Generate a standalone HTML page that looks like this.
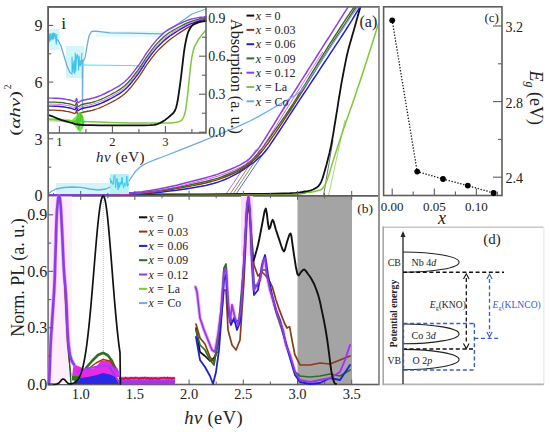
<!DOCTYPE html><html><head><meta charset="utf-8"><style>html,body{margin:0;padding:0;background:#fff;overflow:hidden}svg{display:block}text{font-family:"Liberation Serif",serif}</style></head><body>
<svg width="550" height="432" viewBox="0 0 550 432">
<rect width="550" height="432" fill="#fff"/>
<defs><clipPath id="ca"><rect x="48.2" y="6.9" width="330.7" height="189"/></clipPath></defs>
<rect x="297.5" y="195.9" width="54.5" height="188.6" fill="#a4a4a4"/>
<g clip-path="url(#ca)">
<line x1="225.0" y1="195.6" x2="256.0" y2="149.5" stroke="#8a3ee8" stroke-width="0.7" />
<line x1="229.0" y1="195.6" x2="260.0" y2="149.5" stroke="#8c3b17" stroke-width="0.7" />
<line x1="232.0" y1="195.6" x2="263.0" y2="149.5" stroke="#2f7020" stroke-width="0.7" />
<line x1="235.0" y1="195.6" x2="266.0" y2="149.5" stroke="#2020d0" stroke-width="0.7" />
<line x1="323.5" y1="195.6" x2="333.0" y2="140.0" stroke="#333" stroke-width="0.7" />
<line x1="328.5" y1="195.6" x2="345.0" y2="120.0" stroke="#7cc83c" stroke-width="0.7" />
<polyline points="48.0,195.2 76.8,195.1 118.4,195.1 162.8,194.9 200.0,194.8 228.6,194.6 253.6,194.5 274.2,194.3 290.0,194.0 299.1,193.7 302.5,193.3 303.3,193.0 305.0,192.6 308.0,192.3 310.6,192.2 313.1,191.8 315.5,191.2 317.9,190.6 320.2,190.0 322.4,188.6 324.7,185.6 327.0,180.3 329.4,173.2 331.7,165.4 334.0,158.0 336.3,151.1 338.5,144.2 340.8,137.2 343.2,130.0 345.7,122.8 348.3,115.6 350.9,108.0 353.7,100.0 356.6,91.3 359.7,82.2 362.8,72.7 366.0,63.0 369.5,52.1 373.3,40.2 376.6,29.5 379.0,22.0" fill="none" stroke="#7cc83c" stroke-width="1.5" stroke-linejoin="round" stroke-linecap="round" />
<polyline points="48.0,195.0 66.4,194.9 92.8,194.8 122.2,194.6 150.0,194.5 176.5,194.4 203.9,194.3 229.3,194.1 250.0,194.0 264.8,193.8 275.3,193.7 283.2,193.5 290.0,193.2 295.7,192.8 299.5,192.4 302.3,192.0 305.0,191.5 307.5,191.1 309.5,190.7 311.2,190.3 313.0,189.5 314.9,188.6 316.7,187.5 318.4,186.1 320.0,184.0 321.4,181.3 322.6,178.2 323.7,174.4 325.0,170.0 326.5,164.8 328.0,158.8 329.6,152.4 331.0,146.0 332.2,139.6 333.4,133.1 334.4,126.5 335.5,120.0 336.5,113.6 337.6,107.1 338.5,100.9 339.5,95.0 340.4,89.6 341.2,84.7 342.1,79.9 343.0,75.0 344.0,69.9 345.0,64.7 346.0,59.6 347.0,55.0 348.0,50.9 349.0,47.1 350.0,43.6 351.0,40.0 352.0,36.5 353.0,33.1 354.0,29.7 355.0,26.0 356.2,21.7 357.5,17.0 358.7,12.7 359.7,9.3 360.4,7.3 360.9,6.1 361.2,5.5 361.5,5.0" fill="none" stroke="#111111" stroke-width="1.8" stroke-linejoin="round" stroke-linecap="round" />
<polyline points="48.0,195.2 53.7,195.2 61.6,195.2 70.9,195.2 80.9,195.2 90.8,195.1 100.0,195.0 108.4,194.8 116.8,194.7 125.1,194.5 133.4,194.2 141.7,193.8 150.0,193.2 158.6,192.4 167.6,191.3 176.6,190.2 185.2,188.9 193.1,187.7 200.0,186.5 205.7,185.4 210.4,184.3 214.4,183.3 218.0,182.1 221.4,180.9 225.0,179.5 228.7,177.9 232.1,176.2 235.5,174.4 238.7,172.5 241.9,170.5 245.0,168.5 248.1,166.4 251.1,164.2 254.1,162.0 256.9,159.7 259.5,157.3 262.0,155.0 264.1,152.8 265.8,150.8 267.3,148.8 268.9,146.6 270.7,143.9 273.0,140.5 275.8,136.3 279.0,131.5 282.4,126.3 286.0,120.8 289.5,115.3 293.0,110.0 296.4,104.9 299.8,99.7 303.2,94.5 306.7,89.3 310.1,84.1 313.5,79.0 317.0,73.8 320.5,68.4 324.0,63.0 327.5,57.8 330.7,52.9 333.7,48.4 336.3,44.4 338.7,40.9 340.8,37.6 342.8,34.5 344.9,31.3 347.0,28.0 349.3,24.3 351.8,20.4 354.2,16.4 356.5,12.7 358.5,9.5 360.0,7.0 361.0,5.4 361.6,4.6 361.8,4.2 361.9,4.1 361.9,4.1 362.0,4.0" fill="none" stroke="#2020d0" stroke-width="1.5" stroke-linejoin="round" stroke-linecap="round" />
<polyline points="48.0,195.1 53.7,195.1 61.6,195.1 70.9,195.1 80.9,195.0 90.8,194.9 100.0,194.7 108.4,194.5 116.8,194.3 125.1,194.0 133.4,193.6 141.7,193.1 150.0,192.3 158.6,191.3 167.6,190.0 176.6,188.6 185.2,187.0 193.1,185.6 200.0,184.2 205.7,183.0 210.4,181.8 214.4,180.7 218.0,179.6 221.4,178.4 225.0,177.0 228.7,175.5 232.3,174.0 235.7,172.3 239.0,170.6 242.1,168.8 245.0,167.0 247.7,165.1 250.2,163.1 252.6,161.0 254.8,158.9 256.9,156.7 259.0,154.5 260.9,152.4 262.5,150.6 264.1,148.6 265.7,146.4 267.7,143.8 270.0,140.5 272.9,136.4 276.2,131.6 279.7,126.3 283.4,120.8 287.0,115.3 290.5,110.0 293.8,104.9 297.1,99.7 300.3,94.5 303.6,89.3 306.8,84.1 310.0,79.0 313.3,73.8 316.6,68.4 319.8,63.1 323.1,57.9 326.1,53.0 329.0,48.4 331.6,44.3 334.1,40.5 336.4,37.0 338.6,33.7 340.8,30.4 343.0,27.0 345.4,23.4 347.8,19.6 350.2,15.8 352.5,12.4 354.5,9.3 356.0,7.0 357.0,5.5 357.6,4.6 357.8,4.2 357.9,4.1 357.9,4.1 358.0,4.0" fill="none" stroke="#8c3b17" stroke-width="1.4" stroke-linejoin="round" stroke-linecap="round" />
<polyline points="48.0,195.0 53.7,195.0 61.6,195.0 70.9,194.9 80.9,194.8 90.8,194.7 100.0,194.5 108.4,194.3 116.8,194.0 125.1,193.7 133.4,193.2 141.7,192.6 150.0,191.8 158.6,190.6 167.6,189.2 176.6,187.6 185.2,185.9 193.1,184.3 200.0,182.8 205.7,181.5 210.4,180.3 214.4,179.2 218.0,178.1 221.4,176.9 225.0,175.5 228.7,174.0 232.3,172.4 235.8,170.8 239.0,169.1 242.1,167.3 245.0,165.5 247.6,163.6 250.0,161.7 252.1,159.7 254.1,157.7 256.1,155.6 258.0,153.5 259.7,151.5 261.1,149.7 262.5,147.9 264.0,145.8 265.7,143.2 268.0,140.0 270.9,136.0 274.3,131.2 277.9,126.1 281.7,120.6 285.5,115.2 289.0,110.0 292.3,105.0 295.5,99.9 298.6,94.8 301.7,89.7 304.9,84.6 308.0,79.5 311.2,74.2 314.5,68.8 317.8,63.4 321.0,58.1 324.1,53.1 327.0,48.4 329.6,44.2 332.1,40.3 334.4,36.7 336.6,33.3 338.8,29.9 341.0,26.5 343.4,22.9 345.8,19.2 348.2,15.6 350.5,12.2 352.5,9.3 354.0,7.0 355.0,5.5 355.6,4.7 355.8,4.3 355.9,4.2 355.9,4.1 356.0,4.0" fill="none" stroke="#2f7020" stroke-width="1.4" stroke-linejoin="round" stroke-linecap="round" />
<polyline points="50.5,196.0 56.2,196.0 64.1,196.0 73.4,195.9 83.4,195.8 93.3,195.7 102.5,195.4 110.9,195.1 119.3,194.7 127.6,194.3 135.9,193.7 144.2,192.9 152.5,191.8 161.1,190.3 170.1,188.4 179.1,186.4 187.7,184.2 195.6,182.2 202.5,180.4 208.2,178.9 212.9,177.6 216.9,176.4 220.5,175.3 223.9,174.0 227.5,172.7 231.2,171.2 234.9,169.7 238.4,168.1 241.7,166.5 244.7,164.9 247.5,163.2 249.9,161.6 251.9,159.9 253.6,158.3 255.2,156.5 256.8,154.7 258.5,152.7 260.1,150.7 261.7,148.6 263.1,146.5 264.7,144.1 266.5,141.4 268.5,138.2 270.9,134.4 273.5,130.1 276.4,125.5 279.3,120.7 282.3,115.9 285.2,111.2 288.0,106.7 290.8,102.3 293.6,97.8 296.5,93.3 299.5,88.7 302.5,83.9 305.9,78.5 309.7,72.5 313.6,66.4 317.2,60.7 320.3,55.9 322.5,52.4" fill="none" stroke="#e030e0" stroke-width="0.8" stroke-linejoin="round" stroke-linecap="round" />
<polyline points="48.0,194.8 53.7,194.8 61.6,194.8 70.9,194.7 80.9,194.6 90.8,194.5 100.0,194.2 108.4,193.9 116.8,193.5 125.1,193.1 133.4,192.5 141.7,191.7 150.0,190.6 158.6,189.1 167.6,187.2 176.6,185.2 185.2,183.0 193.1,181.0 200.0,179.2 205.7,177.7 210.4,176.4 214.4,175.2 218.0,174.1 221.4,172.8 225.0,171.5 228.7,170.0 232.4,168.5 235.9,166.9 239.2,165.3 242.2,163.7 245.0,162.0 247.4,160.4 249.4,158.7 251.1,157.1 252.7,155.3 254.3,153.5 256.0,151.5 257.6,149.5 259.2,147.4 260.6,145.3 262.2,142.9 264.0,140.2 266.0,137.0 268.4,133.2 271.0,128.9 273.9,124.3 276.8,119.5 279.8,114.7 282.7,110.0 285.5,105.5 288.3,101.1 291.1,96.6 294.0,92.1 297.0,87.5 300.0,82.7 303.2,77.7 306.5,72.5 309.8,67.2 313.2,61.9 316.6,56.5 320.0,51.2 323.5,45.7 327.1,40.0 330.8,34.3 334.2,28.8 337.4,23.9 340.0,19.7 342.1,16.4 343.8,13.7 345.1,11.6 346.2,9.9 347.2,8.4 348.0,7.1 348.7,6.0 349.2,5.2 349.5,4.8 349.7,4.5 349.9,4.2 350.0,4.0" fill="none" stroke="#8a3ee8" stroke-width="1.5" stroke-linejoin="round" stroke-linecap="round" />
<polyline points="135.0,195.3 200.0,195.2 290.0,194.6 305.0,193.4" fill="none" stroke="#7a9a3a" stroke-width="1.2" stroke-linejoin="round" stroke-linecap="round" />
<rect x="56" y="183" width="72" height="11" fill="#d2f6f8"/>
<rect x="110" y="174" width="19" height="20" fill="#b8f0f6"/>
<polyline points="48.0,194.0 52.0,191.0 56.0,189.0 64.0,187.5 72.0,187.0 81.0,187.3 90.0,189.0 98.0,190.0 106.0,189.0 110.0,187.0" fill="none" stroke="#6cace6" stroke-width="1.3" stroke-linejoin="round" stroke-linecap="round" />
<polyline points="110.0,178.6 110.8,183.2 111.6,180.5 112.4,184.1 113.2,184.4 114.0,176.0 114.8,175.2 115.6,187.6 116.4,178.9 117.2,178.5 118.0,189.9 118.8,182.1 119.6,187.5 120.4,182.1 121.2,184.6 122.0,177.3 122.8,184.5 123.6,188.0 124.4,182.8 125.2,186.1 126.0,185.1 126.8,176.0 127.6,186.4 128.4,183.9" fill="none" stroke="#38c8ec" stroke-width="1.0" stroke-linejoin="round" stroke-linecap="round" />
<polyline points="129.0,181.0 129.7,179.9 130.8,178.3 131.9,176.6 133.0,175.0 133.9,173.7 134.7,172.5 135.6,171.3 137.0,170.0 138.5,168.6 140.2,167.0 142.6,165.4 146.0,163.5 150.5,161.5 155.8,159.4 162.2,157.0 170.0,154.0 179.8,150.1 191.2,145.6 203.1,140.9 214.0,136.5 223.7,132.5 232.9,128.7 241.6,124.9 250.0,121.0 258.3,116.6 266.4,112.0 273.8,107.7 280.0,104.0 284.8,101.3 288.5,99.2 291.4,97.5 294.0,96.0 296.1,94.7 297.5,93.7 298.7,92.8 300.0,91.5 300.8,90.9 301.2,90.7 302.5,89.0 306.0,84.0 313.1,73.5 322.8,59.0 332.5,44.2 340.0,33.0 344.2,26.6 346.6,23.0 348.2,20.6 350.0,18.0 352.3,14.7 354.6,11.5 356.6,8.8 358.0,6.9" fill="none" stroke="#6cace6" stroke-width="1.3" stroke-linejoin="round" stroke-linecap="round" />
</g>
<rect x="48.2" y="6.9" width="157.8" height="126.1" fill="#fff"/>
<rect x="48.5" y="29" width="11" height="21" fill="#bff3f6" opacity="0.7"/>
<rect x="66" y="46" width="18" height="32" fill="#bff3f6" opacity="0.7"/>
<rect x="96" y="31" width="70" height="6" fill="#d8f8fa" opacity="0.7"/>
<polyline points="57.0,40.0 58.0,40.0 61.0,46.0 64.0,56.0 67.0,66.0 69.6,72.0 72.0,74.0" fill="none" stroke="#6cace6" stroke-width="1.3" stroke-linejoin="round" stroke-linecap="round" />
<polyline points="48.5,37.0 48.5,37.0 49.1,34.6 49.7,41.6 50.3,33.5 50.9,40.0 51.5,37.6 52.1,33.3 52.7,39.6 53.3,33.0 53.9,38.6 54.5,33.5 55.1,33.8 55.7,38.4 56.3,44.1 56.9,34.2" fill="none" stroke="#3cc4ec" stroke-width="1.1" stroke-linejoin="round" stroke-linecap="round" />
<polyline points="72.0,72.0 72.0,56.9 72.5,65.8 73.1,72.8 73.6,64.7 74.2,60.7 74.7,73.5 75.3,53.0 75.8,70.9 76.4,58.4 76.9,55.2 77.5,54.6 78.0,58.8 78.6,70.0 79.1,56.0 79.7,64.8 80.2,66.1 80.8,60.2 81.3,64.1 81.9,53.4" fill="none" stroke="#3cc4ec" stroke-width="1.1" stroke-linejoin="round" stroke-linecap="round" />
<polyline points="82.3,60.0 82.5,110.0 82.8,62.0 85.0,58.0 87.0,46.0 89.0,36.0 91.5,31.5 96.0,31.2 110.0,32.8 130.0,33.2 150.0,33.6 162.0,33.8 172.0,28.0 182.0,21.0 192.0,14.0 206.0,9.0" fill="none" stroke="#6cace6" stroke-width="1.3" stroke-linejoin="round" stroke-linecap="round" />
<polyline points="82.0,65.0 110.0,65.3 134.0,65.6 146.0,67.0" fill="none" stroke="#4ee0f4" stroke-width="1.0" stroke-linejoin="round" stroke-linecap="round" />
<polyline points="48.0,110.0 49.7,110.1 52.0,110.1 54.8,110.2 57.5,110.3 60.0,110.5 62.2,110.7 64.4,111.0 66.5,111.4 68.4,111.7 70.0,112.0 71.4,112.4 72.5,112.8 73.5,113.2 74.3,113.5 75.0,113.5 75.5,113.1 75.9,112.3 76.1,111.4 76.3,110.7 76.5,110.5 76.8,110.9 77.0,111.9 77.2,113.0 77.5,114.0 78.0,114.5 78.5,114.5 79.0,114.2 79.6,113.7 80.6,113.1 82.0,112.5 84.0,112.0 86.5,111.5 89.2,111.0 92.1,110.3 95.0,109.5 97.9,108.5 100.9,107.3 103.9,106.0 107.0,104.5 110.0,103.0 113.0,101.4 116.1,99.7 119.2,97.9 122.1,95.8 125.0,93.5 127.8,90.8 130.5,87.8 133.0,84.6 135.5,81.3 137.8,78.3 139.9,75.4 141.7,72.6 143.5,69.8 145.2,67.0 147.0,64.4 148.9,61.8 150.7,59.3 152.6,56.9 154.4,54.6 156.3,52.4 158.1,50.4 160.0,48.5 161.8,46.7 163.6,45.0 165.5,43.4 167.3,41.7 169.0,40.3 170.8,38.9 172.7,37.5 175.0,36.0 177.6,34.1 180.6,32.1 183.7,30.1 186.8,28.1 190.0,26.4 193.4,24.8 197.1,23.3 200.7,22.0 203.8,20.9 206.0,20.1" fill="none" stroke="#8c3b17" stroke-width="1.3" stroke-linejoin="round" stroke-linecap="round" />
<polyline points="48.0,106.0 49.7,106.1 52.0,106.1 54.8,106.2 57.5,106.3 60.0,106.5 62.2,106.7 64.4,107.0 66.5,107.4 68.4,107.7 70.0,108.0 71.4,108.4 72.5,108.8 73.5,109.2 74.3,109.5 75.0,109.5 75.5,109.1 75.9,108.3 76.1,107.4 76.3,106.7 76.5,106.5 76.8,106.9 77.0,107.9 77.2,109.0 77.5,110.0 78.0,110.5 78.5,110.5 79.0,110.2 79.6,109.7 80.6,109.1 82.0,108.5 84.0,108.0 86.5,107.5 89.2,107.0 92.1,106.3 95.0,105.5 97.9,104.5 100.9,103.3 103.9,102.0 107.0,100.5 110.0,99.0 113.0,97.4 116.1,95.7 119.2,93.9 122.1,91.8 125.0,89.5 127.8,86.8 130.5,83.8 133.0,80.6 135.5,77.3 137.8,74.3 139.9,71.4 141.7,68.6 143.5,65.8 145.2,63.0 147.0,60.4 148.9,57.8 150.7,55.3 152.6,52.9 154.4,50.6 156.3,48.4 158.1,46.4 160.0,44.5 161.8,42.7 163.6,41.0 165.5,39.4 167.3,37.9 169.0,36.6 170.8,35.3 172.7,34.1 175.0,32.6 177.6,31.0 180.6,29.2 183.7,27.3 186.8,25.6 190.0,24.1 193.4,22.8 197.1,21.5 200.7,20.4 203.8,19.6 206.0,18.9" fill="none" stroke="#2020d0" stroke-width="1.4" stroke-linejoin="round" stroke-linecap="round" />
<polyline points="48.0,102.0 49.7,102.1 52.0,102.1 54.8,102.2 57.5,102.3 60.0,102.5 62.2,102.7 64.4,103.0 66.5,103.4 68.4,103.7 70.0,104.0 71.4,104.4 72.5,104.8 73.5,105.2 74.3,105.5 75.0,105.5 75.5,105.1 75.9,104.3 76.1,103.4 76.3,102.7 76.5,102.5 76.8,102.9 77.0,103.9 77.2,105.0 77.5,106.0 78.0,106.5 78.5,106.5 79.0,106.2 79.6,105.7 80.6,105.1 82.0,104.5 84.0,104.0 86.5,103.5 89.2,103.0 92.1,102.3 95.0,101.5 97.9,100.5 100.9,99.3 103.9,98.0 107.0,96.5 110.0,95.0 113.0,93.4 116.1,91.7 119.2,89.9 122.1,87.8 125.0,85.5 127.8,82.8 130.5,79.8 133.0,76.6 135.5,73.3 137.8,70.3 139.9,67.4 141.7,64.6 143.5,61.8 145.2,59.0 147.0,56.4 148.9,53.8 150.7,51.3 152.6,48.9 154.4,46.6 156.3,44.4 158.1,42.4 160.0,40.5 161.8,38.7 163.6,37.0 165.5,35.5 167.3,34.0 169.0,32.8 170.8,31.7 172.7,30.6 175.0,29.3 177.6,27.8 180.6,26.2 183.7,24.6 186.8,23.1 190.0,21.8 193.4,20.7 197.1,19.7 200.7,18.9 203.8,18.2 206.0,17.7" fill="none" stroke="#2f7020" stroke-width="1.3" stroke-linejoin="round" stroke-linecap="round" />
<polyline points="48.0,104.0 49.7,104.1 52.0,104.1 54.8,104.2 57.5,104.3 60.0,104.5 62.2,104.7 64.4,105.0 66.5,105.4 68.4,105.7 70.0,106.0 71.4,106.4 72.5,106.8 73.5,107.2 74.3,107.5 75.0,107.5 75.5,107.1 75.9,106.3 76.1,105.4 76.3,104.7 76.5,104.5 76.8,104.9 77.0,105.9 77.2,107.0 77.5,108.0 78.0,108.5 78.5,108.5 79.0,108.2 79.6,107.7 80.6,107.1 82.0,106.5 84.0,106.0 86.5,105.5 89.2,105.0 92.1,104.3 95.0,103.5 97.9,102.5 100.9,101.3 103.9,100.0 107.0,98.5 110.0,97.0 113.0,95.4 116.1,93.7 119.2,91.9 122.1,89.8 125.0,87.5 127.8,84.8 130.5,81.8 133.0,78.6 135.5,75.3 137.8,72.3 139.9,69.4 141.7,66.6 143.5,63.8 145.2,61.0 147.0,58.4 148.9,55.8 150.7,53.3 152.6,50.9 154.4,48.6 156.3,46.4 158.1,44.4 160.0,42.5 161.8,40.7 163.6,39.0 165.5,37.4 167.3,36.0 169.0,34.7 170.8,33.5 172.7,32.3 175.0,31.0 177.6,29.4 180.6,27.7 183.7,26.0 186.8,24.4 190.0,22.9 193.4,21.7 197.1,20.6 200.7,19.7 203.8,18.9 206.0,18.3" fill="none" stroke="#e030e0" stroke-width="0.7" stroke-linejoin="round" stroke-linecap="round" />
<polyline points="48.0,98.0 49.7,98.1 52.0,98.1 54.8,98.2 57.5,98.3 60.0,98.5 62.2,98.7 64.4,99.0 66.5,99.4 68.4,99.7 70.0,100.0 71.4,100.4 72.5,100.8 73.5,101.2 74.3,101.5 75.0,101.5 75.5,101.1 75.9,100.3 76.1,99.4 76.3,98.7 76.5,98.5 76.8,98.9 77.0,99.9 77.2,101.0 77.5,102.0 78.0,102.5 78.5,102.5 79.0,102.2 79.6,101.7 80.6,101.1 82.0,100.5 84.0,100.0 86.5,99.5 89.2,99.0 92.1,98.3 95.0,97.5 97.9,96.5 100.9,95.3 103.9,94.0 107.0,92.5 110.0,91.0 113.0,89.4 116.1,87.7 119.2,85.9 122.1,83.8 125.0,81.5 127.8,78.8 130.5,75.8 133.0,72.6 135.5,69.3 137.8,66.3 139.9,63.4 141.7,60.6 143.5,57.8 145.2,55.0 147.0,52.4 148.9,49.8 150.7,47.3 152.6,44.9 154.4,42.6 156.3,40.4 158.1,38.4 160.0,36.5 161.8,34.7 163.6,33.0 165.5,31.5 167.3,30.2 169.0,29.1 170.8,28.1 172.7,27.1 175.0,26.0 177.6,24.7 180.6,23.3 183.7,21.9 186.8,20.6 190.0,19.5 193.4,18.6 197.1,17.9 200.7,17.3 203.8,16.9 206.0,16.5" fill="none" stroke="#8a3ee8" stroke-width="1.4" stroke-linejoin="round" stroke-linecap="round" />
<polyline points="48.5,119.5 60.0,120.2 70.0,121.0" fill="none" stroke="#b6e89a" stroke-width="3.5" stroke-linejoin="round" stroke-linecap="round" />
<polyline points="48.5,119.0 50.5,119.2 53.4,119.4 56.7,119.7 60.0,120.0 63.4,120.3 67.2,120.5 70.8,120.8 74.0,121.0 75.9,121.1 76.9,121.2 78.7,121.3 82.8,121.5 90.0,121.8 99.4,122.1 109.8,122.4 120.0,122.7 130.3,122.9 141.2,123.0 151.5,123.0 160.0,123.0 166.3,123.0 171.1,122.9 174.9,122.6 178.0,122.0 180.4,121.1 181.9,119.9 183.0,118.3 184.0,116.0 184.9,113.3 185.6,110.3 186.2,106.1 187.0,100.0 188.1,90.5 189.3,78.4 190.6,66.4 191.9,57.0 193.1,51.2 194.3,47.5 195.5,44.8 197.0,42.0 199.0,38.7 201.3,35.6 203.5,32.9 205.0,31.0" fill="none" stroke="#7cc83c" stroke-width="1.5" stroke-linejoin="round" stroke-linecap="round" />
<polygon points="70,121.5 75,117 78.5,112.5 81,112 83.5,117 84.5,122 83,128 80,132.5 77,129 73,124" fill="#66e040" opacity="0.85"/>
<polyline points="73.0,121.5 73.3,121.5 73.7,121.7 74.0,121.5 74.4,121.5 74.7,121.6 75.1,120.9 75.4,121.5 75.8,122.0 76.1,122.9 76.5,119.0 76.8,120.0 77.2,117.7 77.5,124.9 77.9,124.0 78.2,114.7 78.6,129.5 78.9,129.8 79.3,124.4 79.6,123.8 80.0,114.6 80.3,111.9 80.7,122.0 81.0,113.6 81.4,116.4 81.7,117.7 82.1,115.4 82.4,121.1 82.8,120.9 83.1,124.1 83.5,121.6 83.8,122.2 84.2,121.5 84.5,121.9 84.9,121.4" fill="none" stroke="#44cc22" stroke-width="1.0" stroke-linejoin="round" stroke-linecap="round" />
<polyline points="48.5,115.0 49.5,115.4 50.9,115.9 52.5,116.4 54.0,117.0 55.3,117.5 56.4,118.1 57.8,118.7 59.5,119.3 61.7,120.1 64.3,120.9 67.1,121.7 70.0,122.5 72.5,123.2 74.7,123.9 77.8,124.5 82.8,125.0 90.6,125.2 100.3,125.3 110.6,125.3 120.0,125.3 128.5,125.4 136.7,125.4 144.1,125.4 150.0,125.2 153.9,124.9 156.2,124.5 158.0,123.9 160.0,123.0 162.6,121.6 165.2,119.9 167.8,117.9 170.0,116.0 171.8,114.4 173.4,113.0 174.7,111.1 176.0,108.0 177.1,103.5 178.1,98.1 179.0,91.8 180.0,85.0 181.0,77.1 182.1,68.1 183.1,59.3 184.0,52.0 184.8,46.6 185.6,42.4 186.3,39.0 187.0,36.0 187.7,33.5 188.4,31.5 189.2,30.0 190.0,28.5 190.9,27.1 191.8,25.9 192.8,24.9 194.0,24.0 195.4,23.3 196.9,22.7 198.5,22.2 200.0,21.8 201.6,21.5 203.4,21.3 204.9,21.1 206.0,21.0" fill="none" stroke="#111111" stroke-width="1.8" stroke-linejoin="round" stroke-linecap="round" />
<rect x="48.2" y="6.9" width="157.8" height="126.1" fill="none" stroke="#5e5e5e" stroke-width="1.5"/>
<line x1="59.4" y1="133.0" x2="59.4" y2="126.0" stroke="#5e5e5e" stroke-width="1.1" />
<line x1="85.9" y1="133.0" x2="85.9" y2="129.0" stroke="#5e5e5e" stroke-width="1.1" />
<line x1="112.4" y1="133.0" x2="112.4" y2="126.0" stroke="#5e5e5e" stroke-width="1.1" />
<line x1="138.9" y1="133.0" x2="138.9" y2="129.0" stroke="#5e5e5e" stroke-width="1.1" />
<line x1="165.4" y1="133.0" x2="165.4" y2="126.0" stroke="#5e5e5e" stroke-width="1.1" />
<line x1="191.9" y1="133.0" x2="191.9" y2="129.0" stroke="#5e5e5e" stroke-width="1.1" />
<line x1="206.0" y1="132.2" x2="199.0" y2="132.2" stroke="#5e5e5e" stroke-width="1.1" />
<line x1="206.0" y1="113.2" x2="202.0" y2="113.2" stroke="#5e5e5e" stroke-width="1.1" />
<line x1="206.0" y1="94.2" x2="199.0" y2="94.2" stroke="#5e5e5e" stroke-width="1.1" />
<line x1="206.0" y1="75.2" x2="202.0" y2="75.2" stroke="#5e5e5e" stroke-width="1.1" />
<line x1="206.0" y1="56.2" x2="199.0" y2="56.2" stroke="#5e5e5e" stroke-width="1.1" />
<line x1="206.0" y1="37.2" x2="202.0" y2="37.2" stroke="#5e5e5e" stroke-width="1.1" />
<line x1="206.0" y1="18.3" x2="199.0" y2="18.3" stroke="#5e5e5e" stroke-width="1.1" />
<text x="59.4" y="145.6" font-size="12.5" text-anchor="middle" fill="#222"  >1</text>
<text x="112.4" y="145.6" font-size="12.5" text-anchor="middle" fill="#222"  >2</text>
<text x="165.4" y="145.6" font-size="12.5" text-anchor="middle" fill="#222"  >3</text>
<text x="96" y="162.4" font-size="15" fill="#222" textLength="48.6" lengthAdjust="spacing"><tspan font-style="italic">hν</tspan> (eV)</text>
<text x="208.2" y="23.1" font-size="13.8" text-anchor="start" fill="#222"  >0.9</text>
<text x="208.2" y="61.0" font-size="13.8" text-anchor="start" fill="#222"  >0.6</text>
<text x="208.2" y="99.0" font-size="13.8" text-anchor="start" fill="#222"  >0.3</text>
<text x="208.2" y="137.0" font-size="13.8" text-anchor="start" fill="#222"  >0.0</text>
<text x="0.0" y="0.0" font-size="17" text-anchor="middle" fill="#222"  transform="translate(231.0,76.5) rotate(90)" textLength="115" lengthAdjust="spacingAndGlyphs">Absorption (a. u.)</text>
<text x="61.2" y="29.2" font-size="17.5" text-anchor="start" fill="#222"  >i</text>
<line x1="246.5" y1="15.6" x2="254.2" y2="15.6" stroke="#111111" stroke-width="2.0" />
<text x="255.8" y="19.8" font-size="12" fill="#222"><tspan font-style="italic">x</tspan><tspan x="265">=</tspan><tspan x="274.5">0</tspan></text>
<line x1="246.5" y1="29.9" x2="254.2" y2="29.9" stroke="#8c3b17" stroke-width="2.0" />
<text x="255.8" y="34.1" font-size="12" fill="#222"><tspan font-style="italic">x</tspan><tspan x="265">=</tspan><tspan x="274.5">0.03</tspan></text>
<line x1="246.5" y1="44.2" x2="254.2" y2="44.2" stroke="#2020d0" stroke-width="2.0" />
<text x="255.8" y="48.4" font-size="12" fill="#222"><tspan font-style="italic">x</tspan><tspan x="265">=</tspan><tspan x="274.5">0.06</tspan></text>
<line x1="246.5" y1="58.4" x2="254.2" y2="58.4" stroke="#2f7020" stroke-width="2.0" />
<text x="255.8" y="62.6" font-size="12" fill="#222"><tspan font-style="italic">x</tspan><tspan x="265">=</tspan><tspan x="274.5">0.09</tspan></text>
<line x1="246.5" y1="72.7" x2="254.2" y2="72.7" stroke="#8a3ee8" stroke-width="2.0" />
<text x="255.8" y="76.9" font-size="12" fill="#222"><tspan font-style="italic">x</tspan><tspan x="265">=</tspan><tspan x="274.5">0.12</tspan></text>
<line x1="246.5" y1="87.0" x2="254.2" y2="87.0" stroke="#7cc83c" stroke-width="2.0" />
<text x="255.8" y="91.2" font-size="12" fill="#222"><tspan font-style="italic">x</tspan><tspan x="265">=</tspan><tspan x="274.5">La</tspan></text>
<line x1="246.5" y1="101.3" x2="254.2" y2="101.3" stroke="#6cace6" stroke-width="2.0" />
<text x="255.8" y="105.5" font-size="12" fill="#222"><tspan font-style="italic">x</tspan><tspan x="265">=</tspan><tspan x="274.5">Co</tspan></text>
<rect x="48.2" y="6.9" width="330.7" height="377.6" fill="none" stroke="#5e5e5e" stroke-width="1.6"/>
<line x1="48.2" y1="195.9" x2="378.9" y2="195.9" stroke="#5e5e5e" stroke-width="1.6" />
<line x1="378.9" y1="6.9" x2="378.9" y2="384.5" stroke="#9c9c9c" stroke-width="1.5" />
<line x1="48.2" y1="195.5" x2="53.2" y2="195.5" stroke="#5e5e5e" stroke-width="1.1" />
<line x1="48.2" y1="167.2" x2="51.2" y2="167.2" stroke="#5e5e5e" stroke-width="1.1" />
<line x1="48.2" y1="138.8" x2="53.2" y2="138.8" stroke="#5e5e5e" stroke-width="1.1" />
<line x1="48.2" y1="110.5" x2="51.2" y2="110.5" stroke="#5e5e5e" stroke-width="1.1" />
<line x1="48.2" y1="82.1" x2="53.2" y2="82.1" stroke="#5e5e5e" stroke-width="1.1" />
<line x1="48.2" y1="53.8" x2="51.2" y2="53.8" stroke="#5e5e5e" stroke-width="1.1" />
<line x1="48.2" y1="25.4" x2="53.2" y2="25.4" stroke="#5e5e5e" stroke-width="1.1" />
<text x="42.6" y="31.2" font-size="16" text-anchor="end" fill="#222"  >9</text>
<text x="42.6" y="87.9" font-size="16" text-anchor="end" fill="#222"  >6</text>
<text x="42.6" y="144.6" font-size="16" text-anchor="end" fill="#222"  >3</text>
<text x="42.6" y="201.3" font-size="16" text-anchor="end" fill="#222"  >0</text>
<text font-size="15" fill="#222" transform="translate(20.2,135.8) rotate(-90) scale(1.4,1)">(<tspan font-style="italic">αhν</tspan>)</text>
<text font-size="9.5" fill="#222" transform="translate(11.2,89.2) rotate(-90)">2</text>
<text x="359.5" y="26.5" font-size="16" text-anchor="start" fill="#222"  >(a)</text>
<line x1="53.6" y1="192.9" x2="53.6" y2="198.3" stroke="#5e5e5e" stroke-width="1.0" />
<line x1="53.6" y1="384.5" x2="53.6" y2="381.5" stroke="#5e5e5e" stroke-width="1.0" />
<line x1="80.7" y1="190.9" x2="80.7" y2="199.9" stroke="#5e5e5e" stroke-width="1.0" />
<line x1="80.7" y1="384.5" x2="80.7" y2="379.5" stroke="#5e5e5e" stroke-width="1.0" />
<line x1="107.8" y1="192.9" x2="107.8" y2="198.3" stroke="#5e5e5e" stroke-width="1.0" />
<line x1="107.8" y1="384.5" x2="107.8" y2="381.5" stroke="#5e5e5e" stroke-width="1.0" />
<line x1="134.9" y1="190.9" x2="134.9" y2="199.9" stroke="#5e5e5e" stroke-width="1.0" />
<line x1="134.9" y1="384.5" x2="134.9" y2="379.5" stroke="#5e5e5e" stroke-width="1.0" />
<line x1="162.0" y1="192.9" x2="162.0" y2="198.3" stroke="#5e5e5e" stroke-width="1.0" />
<line x1="162.0" y1="384.5" x2="162.0" y2="381.5" stroke="#5e5e5e" stroke-width="1.0" />
<line x1="189.1" y1="190.9" x2="189.1" y2="199.9" stroke="#5e5e5e" stroke-width="1.0" />
<line x1="189.1" y1="384.5" x2="189.1" y2="379.5" stroke="#5e5e5e" stroke-width="1.0" />
<line x1="216.2" y1="192.9" x2="216.2" y2="198.3" stroke="#5e5e5e" stroke-width="1.0" />
<line x1="216.2" y1="384.5" x2="216.2" y2="381.5" stroke="#5e5e5e" stroke-width="1.0" />
<line x1="243.3" y1="190.9" x2="243.3" y2="199.9" stroke="#5e5e5e" stroke-width="1.0" />
<line x1="243.3" y1="384.5" x2="243.3" y2="379.5" stroke="#5e5e5e" stroke-width="1.0" />
<line x1="270.4" y1="192.9" x2="270.4" y2="198.3" stroke="#5e5e5e" stroke-width="1.0" />
<line x1="270.4" y1="384.5" x2="270.4" y2="381.5" stroke="#5e5e5e" stroke-width="1.0" />
<line x1="297.5" y1="190.9" x2="297.5" y2="199.9" stroke="#5e5e5e" stroke-width="1.0" />
<line x1="297.5" y1="384.5" x2="297.5" y2="379.5" stroke="#5e5e5e" stroke-width="1.0" />
<line x1="324.6" y1="192.9" x2="324.6" y2="198.3" stroke="#5e5e5e" stroke-width="1.0" />
<line x1="324.6" y1="384.5" x2="324.6" y2="381.5" stroke="#5e5e5e" stroke-width="1.0" />
<line x1="351.7" y1="190.9" x2="351.7" y2="199.9" stroke="#5e5e5e" stroke-width="1.0" />
<line x1="351.7" y1="384.5" x2="351.7" y2="379.5" stroke="#5e5e5e" stroke-width="1.0" />
<line x1="59.8" y1="196.0" x2="59.8" y2="384.0" stroke="#bbbbbb" stroke-width="0.8" stroke-dasharray="1,1"/>
<line x1="103.4" y1="196.0" x2="103.4" y2="384.0" stroke="#bbbbbb" stroke-width="0.8" stroke-dasharray="1,1"/>
<rect x="48.8" y="196.5" width="23" height="187.5" fill="#feeefc"/>
<polygon points="72,377 73.5,364 78,366 86,369.5 95,368 101,361 108,360.5 113,363 118,369 119.5,377" fill="#e82ae8"/>
<polygon points="74,384 75,377.5 88,377 97,375 103,373 110,374.5 116,377 119,384" fill="#2a2ae6"/>
<polygon points="72,380.5 72,376 80,376 80,380.5" fill="#2f7a20"/>
<polyline points="86.0,368.0 92.0,361.0 98.0,355.0 103.3,352.8 108.0,355.5 112.0,361.0 115.0,368.0" fill="none" stroke="#2f7020" stroke-width="2.6" stroke-linejoin="round" stroke-linecap="round" />
<polyline points="88.0,369.0 96.0,363.0 103.0,359.5 110.0,361.0 114.0,366.0" fill="none" stroke="#b03018" stroke-width="1.4" stroke-linejoin="round" stroke-linecap="round" />
<polyline points="78.0,371.0 90.0,368.0 103.0,365.5 112.0,366.5 118.0,372.0" fill="none" stroke="#a040f0" stroke-width="2.0" stroke-linejoin="round" stroke-linecap="round" />
<rect x="119.5" y="376.8" width="55.5" height="7.4" fill="#e23ae8"/>
<rect x="119.5" y="380.3" width="55.5" height="3.9" fill="#9a3ae6"/>
<polyline points="119.5,378.3 119.5,378.5 120.5,378.7 121.5,378.8 122.5,379.1 123.5,378.7 124.5,379.1 125.5,377.5 126.5,378.2 127.5,379.1 128.5,378.6 129.5,379.0 130.5,377.6 131.5,378.2 132.5,377.8 133.5,378.4 134.5,378.4 135.5,377.4 136.5,377.8 137.5,377.9 138.5,379.0 139.5,378.8 140.5,377.7 141.5,378.8 142.5,377.6 143.5,378.5 144.5,377.6 145.5,377.4 146.5,379.0 147.5,377.8 148.5,377.8 149.5,379.2 150.5,379.0 151.5,377.9 152.5,379.1 153.5,378.4 154.5,378.6 155.5,377.8 156.5,379.1 157.5,378.6 158.5,379.1 159.5,379.0 160.5,377.9 161.5,378.1 162.5,377.7 163.5,377.7 164.5,377.5 165.5,377.9 166.5,378.5 167.5,377.4 168.5,378.6 169.5,378.0 170.5,378.0 171.5,378.9 172.5,378.3 173.5,378.0 174.5,378.3" fill="none" stroke="#cc1040" stroke-width="1.5" stroke-linejoin="round" stroke-linecap="round" />
<polyline points="110.0,368.0 114.0,374.0 119.5,383.0" fill="none" stroke="#9a3ae6" stroke-width="2.0" stroke-linejoin="round" stroke-linecap="round" />
<polyline points="48.9,384.0 49.0,382.2 49.2,379.7 49.4,376.3 49.6,372.0 49.8,366.4 50.0,359.6 50.3,352.3 50.6,345.0 51.0,337.7 51.5,330.2 52.0,322.6 52.5,315.0 53.0,307.6 53.5,300.3 54.0,292.9 54.4,285.0 54.8,276.6 55.0,267.8 55.3,258.8 55.6,250.0 55.9,241.0 56.1,231.8 56.4,223.2 56.7,216.0 57.0,210.4 57.4,206.1 57.7,202.7 58.0,200.0 58.3,198.0 58.5,196.9 58.8,196.4 59.0,196.3 59.3,196.4 59.5,196.9 59.8,198.0 60.1,200.0 60.4,202.8 60.7,206.4 61.0,210.8 61.3,216.0 61.6,222.4 62.0,229.9 62.4,237.7 62.7,245.0 63.0,251.8 63.3,258.3 63.6,264.7 64.0,271.0 64.4,276.8 64.9,282.1 65.4,287.9 65.9,295.0 66.4,304.4 66.9,315.4 67.3,326.2 67.8,335.0 68.2,341.1 68.6,345.5 69.1,348.9 69.5,352.0 70.0,354.7 70.5,356.8 71.0,358.5 71.5,360.0 72.1,361.5 72.9,362.8 73.5,363.8 74.0,364.5" fill="none" stroke="#f080f0" stroke-width="4.0" stroke-linejoin="round" stroke-linecap="round" opacity="0.55"/>
<polyline points="64.0,275.0 66.2,320.0 67.5,345.0 69.0,360.5 71.0,375.0" fill="none" stroke="#8c3b17" stroke-width="1.0" stroke-linejoin="round" stroke-linecap="round" />
<polyline points="65.5,290.0 67.5,330.0 69.0,355.0 70.2,372.0 71.0,384.0" fill="none" stroke="#1f5a30" stroke-width="1.3" stroke-linejoin="round" stroke-linecap="round" />
<polyline points="48.9,384.0 49.0,382.2 49.2,379.7 49.4,376.3 49.6,372.0 49.8,366.4 50.0,359.6 50.3,352.3 50.6,345.0 51.0,337.7 51.5,330.2 52.0,322.6 52.5,315.0 53.0,307.6 53.5,300.3 54.0,292.9 54.4,285.0 54.8,276.6 55.0,267.8 55.3,258.8 55.6,250.0 55.9,241.0 56.1,231.8 56.4,223.2 56.7,216.0 57.0,210.4 57.4,206.1 57.7,202.7 58.0,200.0 58.3,198.0 58.5,196.9 58.8,196.4 59.0,196.3 59.3,196.4 59.5,196.9 59.8,198.0 60.1,200.0 60.4,202.8 60.7,206.4 61.0,210.8 61.3,216.0 61.6,222.4 62.0,229.9 62.4,237.7 62.7,245.0 63.0,251.8 63.3,258.3 63.6,264.7 64.0,271.0 64.4,276.8 64.9,282.1 65.4,287.9 65.9,295.0 66.4,304.4 66.9,315.4 67.3,326.2 67.8,335.0 68.2,341.1 68.6,345.5 69.1,348.9 69.5,352.0 70.0,354.7 70.5,356.8 71.0,358.5 71.5,360.0 72.1,361.5 72.9,362.8 73.5,363.8 74.0,364.5" fill="none" stroke="#8a3ee8" stroke-width="2.6" stroke-linejoin="round" stroke-linecap="round" />
<polyline points="48.8,384.3 49.2,384.3 49.6,384.3 50.0,384.3 50.4,384.3 50.8,384.3 51.2,384.3 51.6,384.3 52.0,384.3 52.4,384.3 52.8,384.3 53.2,384.3 53.6,384.3 54.0,384.3 54.4,384.3 54.8,384.3 55.2,384.3 55.6,384.2 56.0,384.2 56.4,384.1 56.8,384.0 57.2,383.9 57.6,383.8 58.0,383.6 58.4,383.3 58.8,383.0 59.2,382.7 59.6,382.3 60.0,381.8 60.4,381.3 60.8,380.9 61.2,380.4 61.6,379.9 62.0,379.5 62.4,379.3 62.8,379.1 63.2,379.0 63.6,379.1 64.0,379.2 64.4,379.5 64.8,379.9 65.2,380.3 65.6,380.8 66.0,381.3 66.4,381.8 66.8,382.2 67.2,382.6 67.6,382.9 68.0,383.2 68.4,383.4 68.8,383.6 69.2,383.7 69.6,383.8 70.0,383.8 70.4,383.8 70.8,383.8 71.2,383.7 71.6,383.7 72.0,383.6 72.4,383.5 72.8,383.4 73.2,383.3 73.6,383.1 74.0,382.9 74.4,382.7 74.8,382.5 75.2,382.3 75.6,382.0 76.0,381.7 76.4,381.3 76.8,381.0 77.2,380.5 77.6,380.0 78.0,379.5 78.4,378.9 78.8,378.3 79.2,377.6 79.6,376.8 80.0,375.9 80.4,375.0 80.8,373.9 81.2,372.8 81.6,371.6 82.0,370.3 82.4,368.9 82.8,367.3 83.2,365.7 83.6,363.9 84.0,361.9 84.4,359.9 84.8,357.7 85.2,355.4 85.6,352.9 86.0,350.3 86.4,347.5 86.8,344.5 87.2,341.4 87.6,338.2 88.0,334.8 88.4,331.2 88.8,327.5 89.2,323.7 89.6,319.7 90.0,315.5 90.4,311.3 90.8,306.9 91.2,302.4 91.6,297.8 92.0,293.1 92.4,288.4 92.8,283.5 93.2,278.7 93.6,273.8 94.0,268.9 94.4,264.0 94.8,259.1 95.2,254.2 95.6,249.5 96.0,244.8 96.4,240.2 96.8,235.7 97.2,231.4 97.6,227.2 98.0,223.2 98.4,219.5 98.8,215.9 99.2,212.6 99.6,209.6 100.0,206.8 100.4,204.3 100.8,202.2 101.2,200.3 101.6,198.8 102.0,197.6 102.4,196.7 102.8,196.2 103.2,196.0 103.6,196.2 104.0,196.8 104.4,197.7 104.8,199.0 105.2,200.7 105.6,202.7 106.0,205.1 106.4,207.8 106.8,210.8 107.2,214.1 107.6,217.7 108.0,221.5 108.4,225.5 108.8,229.8 109.2,234.3 109.6,238.9 110.0,243.7 110.4,248.6 110.8,253.5 111.2,258.6 111.6,263.7 112.0,268.8 112.4,273.9 112.8,279.1 113.2,284.1 113.6,289.2 114.0,294.1 114.4,299.0 114.8,303.8 115.2,308.4 115.6,313.0 116.0,317.4 116.4,321.6 116.8,325.7 117.2,329.7 117.6,333.4 118.0,337.1 118.4,340.5 118.8,343.8 119.2,346.9 119.6,349.8 120.0,352.6 120.4,384.0" fill="none" stroke="#111111" stroke-width="1.7" stroke-linejoin="round" stroke-linecap="round" />
<rect x="241" y="196" width="12" height="60" fill="#fbe3f7"/>
<polyline points="195.5,287.0 197.0,292.0 200.0,318.0 204.0,330.0 208.0,340.0 212.0,350.0 215.0,352.0 218.0,335.0 221.0,312.0 224.0,272.0 226.0,268.0 228.0,300.0 230.0,322.0 232.0,305.0 235.0,318.0 238.0,325.0 241.0,310.0 244.0,260.0 247.0,205.0 248.5,196.0 250.0,210.0 252.0,260.0 254.0,290.0 257.0,285.0 260.0,280.0 263.0,262.0 265.0,258.0 267.0,275.0 270.0,290.0 273.0,300.0 276.0,310.0 280.0,322.0 283.0,330.0 286.0,345.0 290.0,355.0 295.0,372.0 300.0,380.0 310.0,382.0 320.0,380.0 330.0,378.0 340.0,372.0 345.0,360.0 350.0,345.0" fill="none" stroke="#f070f0" stroke-width="3.6" stroke-linejoin="round" stroke-linecap="round" opacity="0.55"/>
<polyline points="196.0,328.0 200.0,352.0 205.0,356.0 210.0,361.0 214.0,358.0 217.0,352.0" fill="none" stroke="#111111" stroke-width="1.7" stroke-linejoin="round" stroke-linecap="round" />
<polyline points="196.0,324.0 200.0,338.0 205.0,344.0 210.0,357.0 214.0,362.0 218.0,345.0 222.0,310.0 224.0,290.0 226.0,290.0 228.0,330.0 232.0,345.0 236.0,350.0 240.0,340.0 244.0,280.0 247.0,215.0 249.0,205.0 251.0,230.0 254.0,265.0 258.0,276.0 262.0,272.0 266.0,276.0 270.0,282.0 272.3,286.8 276.0,300.0 279.2,309.4 284.4,323.0 287.0,328.0 289.6,326.7 292.0,340.0 294.8,354.5 300.0,364.9 310.0,365.0 320.0,363.0 330.0,364.0 340.0,360.0 345.0,358.0 350.0,356.0" fill="none" stroke="#8c3b17" stroke-width="1.7" stroke-linejoin="round" stroke-linecap="round" />
<polyline points="196.0,330.0 200.0,345.0 205.0,350.0 210.0,360.0 214.0,365.0 218.0,340.0 222.0,300.0 224.0,268.0 226.0,264.0 228.0,305.0 231.0,320.0 235.0,322.0 239.0,320.0 244.0,265.0 247.0,206.0 249.0,200.0 251.0,230.0 254.0,285.0 258.0,286.0 262.0,270.0 266.0,270.0 270.0,288.0 276.0,312.0 282.0,330.0 288.0,350.0 295.0,372.0 300.0,376.0 310.0,377.0 320.0,376.0 330.0,374.0 340.0,376.0 350.0,370.0" fill="none" stroke="#2f7020" stroke-width="1.7" stroke-linejoin="round" stroke-linecap="round" />
<polyline points="196.0,337.0 200.0,360.0 205.0,367.0 210.0,376.0 213.0,384.0 216.0,372.0 219.0,350.0 222.0,310.0 224.0,280.0 226.0,275.0 228.0,310.0 231.0,325.0 234.0,318.0 237.0,330.0 240.0,322.0 244.0,262.0 247.0,205.0 248.5,197.0 250.0,215.0 252.0,265.0 254.0,295.0 258.0,290.0 262.0,265.0 265.0,255.0 268.0,275.0 272.0,295.0 276.0,310.0 280.0,320.0 285.0,340.0 290.0,358.0 295.0,375.0 300.0,382.0 310.0,384.0 320.0,383.0 330.0,378.0 340.0,380.0 350.0,365.0" fill="none" stroke="#2020d0" stroke-width="1.8" stroke-linejoin="round" stroke-linecap="round" />
<polyline points="195.5,287.0 197.0,292.0 200.0,318.0 204.0,330.0 208.0,340.0 212.0,350.0 215.0,352.0 218.0,335.0 221.0,312.0 224.0,272.0 226.0,268.0 228.0,300.0 230.0,322.0 232.0,305.0 235.0,318.0 238.0,325.0 241.0,310.0 244.0,260.0 247.0,205.0 248.5,196.0 250.0,210.0 252.0,260.0 254.0,290.0 257.0,285.0 260.0,280.0 263.0,262.0 265.0,258.0 267.0,275.0 270.0,290.0 273.0,300.0 276.0,310.0 280.0,322.0 283.0,330.0 286.0,345.0 290.0,355.0 295.0,372.0 300.0,380.0 310.0,382.0 320.0,380.0 330.0,378.0 340.0,372.0 345.0,360.0 350.0,345.0" fill="none" stroke="#8a3ee8" stroke-width="1.8" stroke-linejoin="round" stroke-linecap="round" />
<polyline points="253.6,260.5 254.8,256.6 256.4,251.1 258.0,245.0 259.4,238.5 260.7,231.6 262.0,225.0 263.3,217.9 264.6,211.1 265.8,208.5 266.9,213.7 267.9,223.0 269.0,229.0 270.2,227.4 271.4,222.5 272.6,219.8 273.7,221.7 274.8,225.7 276.0,230.0 277.3,234.0 278.7,238.1 280.0,242.0 281.3,246.0 282.7,249.8 283.9,251.4 285.0,249.6 286.0,245.8 287.0,242.0 288.2,238.2 289.5,234.5 290.6,233.4 291.4,236.1 292.1,241.4 293.0,248.0 294.3,256.9 295.9,267.0 297.4,274.0 298.7,275.4 299.9,273.7 301.0,272.0 302.1,270.9 303.1,269.8 304.2,269.5 305.4,270.4 306.7,272.1 308.0,274.0 309.3,275.8 310.7,277.8 312.0,280.0 313.2,282.3 314.4,284.7 315.5,287.5 316.7,290.6 317.9,294.1 319.0,298.0 320.1,302.3 321.1,307.1 322.2,312.4 323.5,318.5 324.8,325.2 326.0,332.0 327.1,339.0 328.1,346.2 329.0,353.0 329.8,359.5 330.5,365.6 331.3,371.0 332.2,375.5 333.1,379.3 334.0,382.0 334.8,383.4 335.5,383.8 336.0,384.0" fill="none" stroke="#111111" stroke-width="1.9" stroke-linejoin="round" stroke-linecap="round" />
<text x="357.2" y="212.6" font-size="13.5" text-anchor="start" fill="#222"  >(b)</text>
<line x1="48.2" y1="384.3" x2="53.2" y2="384.3" stroke="#5e5e5e" stroke-width="1.1" />
<line x1="48.2" y1="356.1" x2="51.2" y2="356.1" stroke="#5e5e5e" stroke-width="1.1" />
<line x1="48.2" y1="327.8" x2="53.2" y2="327.8" stroke="#5e5e5e" stroke-width="1.1" />
<line x1="48.2" y1="299.6" x2="51.2" y2="299.6" stroke="#5e5e5e" stroke-width="1.1" />
<line x1="48.2" y1="271.3" x2="53.2" y2="271.3" stroke="#5e5e5e" stroke-width="1.1" />
<line x1="48.2" y1="243.1" x2="51.2" y2="243.1" stroke="#5e5e5e" stroke-width="1.1" />
<line x1="48.2" y1="214.8" x2="53.2" y2="214.8" stroke="#5e5e5e" stroke-width="1.1" />
<text x="47.3" y="220.3" font-size="16" text-anchor="end" fill="#222"  >0.9</text>
<text x="47.3" y="276.8" font-size="16" text-anchor="end" fill="#222"  >0.6</text>
<text x="47.3" y="333.3" font-size="16" text-anchor="end" fill="#222"  >0.3</text>
<text x="47.3" y="389.8" font-size="16" text-anchor="end" fill="#222"  >0.0</text>
<text x="0.0" y="0.0" font-size="18" text-anchor="middle" fill="#222"  transform="translate(24,277.5) rotate(-90)">Norm. PL (a. u.)</text>
<line x1="139.0" y1="217.3" x2="147.3" y2="217.3" stroke="#111111" stroke-width="2.0" />
<text x="148.5" y="221.5" font-size="11.8" fill="#222"><tspan font-style="italic">x</tspan><tspan x="157">=</tspan><tspan x="167.5">0</tspan></text>
<line x1="139.0" y1="231.6" x2="147.3" y2="231.6" stroke="#8c3b17" stroke-width="2.0" />
<text x="148.5" y="235.8" font-size="11.8" fill="#222"><tspan font-style="italic">x</tspan><tspan x="157">=</tspan><tspan x="167.5">0.03</tspan></text>
<line x1="139.0" y1="245.9" x2="147.3" y2="245.9" stroke="#2020d0" stroke-width="2.0" />
<text x="148.5" y="250.1" font-size="11.8" fill="#222"><tspan font-style="italic">x</tspan><tspan x="157">=</tspan><tspan x="167.5">0.06</tspan></text>
<line x1="139.0" y1="260.2" x2="147.3" y2="260.2" stroke="#2f7020" stroke-width="2.0" />
<text x="148.5" y="264.4" font-size="11.8" fill="#222"><tspan font-style="italic">x</tspan><tspan x="157">=</tspan><tspan x="167.5">0.09</tspan></text>
<line x1="139.0" y1="274.5" x2="147.3" y2="274.5" stroke="#8a3ee8" stroke-width="2.0" />
<text x="148.5" y="278.7" font-size="11.8" fill="#222"><tspan font-style="italic">x</tspan><tspan x="157">=</tspan><tspan x="167.5">0.12</tspan></text>
<line x1="139.0" y1="288.8" x2="147.3" y2="288.8" stroke="#7cc83c" stroke-width="2.0" />
<text x="148.5" y="293.0" font-size="11.8" fill="#222"><tspan font-style="italic">x</tspan><tspan x="157">=</tspan><tspan x="167.5">La</tspan></text>
<line x1="139.0" y1="303.1" x2="147.3" y2="303.1" stroke="#6cace6" stroke-width="2.0" />
<text x="148.5" y="307.3" font-size="11.8" fill="#222"><tspan font-style="italic">x</tspan><tspan x="157">=</tspan><tspan x="167.5">Co</tspan></text>
<text x="80.7" y="399.0" font-size="14.5" text-anchor="middle" fill="#222"  >1.0</text>
<text x="134.9" y="399.0" font-size="14.5" text-anchor="middle" fill="#222"  >1.5</text>
<text x="189.1" y="399.0" font-size="14.5" text-anchor="middle" fill="#222"  >2.0</text>
<text x="243.3" y="399.0" font-size="14.5" text-anchor="middle" fill="#222"  >2.5</text>
<text x="297.5" y="399.0" font-size="14.5" text-anchor="middle" fill="#222"  >3.0</text>
<text x="351.7" y="399.0" font-size="14.5" text-anchor="middle" fill="#222"  >3.5</text>
<text x="184.3" y="423.5" font-size="18.5" fill="#222" textLength="58.3" lengthAdjust="spacing"><tspan font-style="italic">hν</tspan> (eV)</text>
<rect x="383.6" y="6.8" width="118.4" height="188.7" fill="none" stroke="#5e5e5e" stroke-width="1.6"/>
<line x1="392.2" y1="195.5" x2="392.2" y2="188.5" stroke="#5e5e5e" stroke-width="1.1" />
<line x1="413.2" y1="195.5" x2="413.2" y2="191.5" stroke="#5e5e5e" stroke-width="1.1" />
<line x1="434.3" y1="195.5" x2="434.3" y2="188.5" stroke="#5e5e5e" stroke-width="1.1" />
<line x1="455.4" y1="195.5" x2="455.4" y2="191.5" stroke="#5e5e5e" stroke-width="1.1" />
<line x1="476.4" y1="195.5" x2="476.4" y2="188.5" stroke="#5e5e5e" stroke-width="1.1" />
<line x1="497.4" y1="195.5" x2="497.4" y2="191.5" stroke="#5e5e5e" stroke-width="1.1" />
<line x1="502.0" y1="26.0" x2="493.0" y2="26.0" stroke="#5e5e5e" stroke-width="1.1" />
<line x1="502.0" y1="63.8" x2="498.0" y2="63.8" stroke="#5e5e5e" stroke-width="1.1" />
<line x1="502.0" y1="101.6" x2="493.0" y2="101.6" stroke="#5e5e5e" stroke-width="1.1" />
<line x1="502.0" y1="139.4" x2="498.0" y2="139.4" stroke="#5e5e5e" stroke-width="1.1" />
<line x1="502.0" y1="177.2" x2="493.0" y2="177.2" stroke="#5e5e5e" stroke-width="1.1" />
<polyline points="392.2,20.3 417.2,171.6 443.0,179.0 467.8,185.6 493.6,193.0" fill="none" stroke="#111" stroke-width="1.5" stroke-linejoin="round" stroke-linecap="round" stroke-dasharray="0.01,3.0"/>
<circle cx="392.2" cy="20.3" r="2.9" fill="#000"/>
<circle cx="417.2" cy="171.6" r="2.9" fill="#000"/>
<circle cx="443.0" cy="179.0" r="2.9" fill="#000"/>
<circle cx="467.8" cy="185.6" r="2.9" fill="#000"/>
<circle cx="493.6" cy="193.0" r="2.9" fill="#000"/>
<text x="484.5" y="22.0" font-size="13" text-anchor="start" fill="#222"  >(c)</text>
<text x="505.5" y="32.2" font-size="14" text-anchor="start" fill="#222"  >3.2</text>
<text x="505.5" y="107.8" font-size="14" text-anchor="start" fill="#222"  >2.8</text>
<text x="505.5" y="183.4" font-size="14" text-anchor="start" fill="#222"  >2.4</text>
<text x="392.2" y="211.3" font-size="13" text-anchor="middle" fill="#222"  >0.00</text>
<text x="434.3" y="211.3" font-size="13" text-anchor="middle" fill="#222"  >0.05</text>
<text x="476.4" y="211.3" font-size="13" text-anchor="middle" fill="#222"  >0.10</text>
<text x="442.0" y="224.0" font-size="18" text-anchor="middle" fill="#222" font-style="italic" >x</text>
<text font-size="18" fill="#222" transform="translate(530,70.5) rotate(90)"><tspan font-style="italic">E</tspan><tspan font-size="12" dy="4" font-style="italic">g</tspan><tspan dy="-4"> (eV)</tspan></text>
<line x1="383.2" y1="227.2" x2="543.8" y2="227.2" stroke="#c8c8c8" stroke-width="1.6" />
<line x1="543.8" y1="227.2" x2="543.8" y2="384.4" stroke="#ececec" stroke-width="1.4" />
<line x1="383.2" y1="384.4" x2="543.8" y2="384.4" stroke="#b4b4b4" stroke-width="1.8" />
<line x1="383.2" y1="226.4" x2="383.2" y2="385.3" stroke="#a8a8a8" stroke-width="1.6" />
<line x1="403.0" y1="384.0" x2="403.0" y2="234.0" stroke="#222" stroke-width="1.3" />
<path d="M 403.0 231 L 400.5 237 L 405.5 237 Z" fill="#222"/>
<path d="M 403.000 252.000 A 56.000 10.140 0 0 1 403.000 272.300" fill="none" stroke="#222" stroke-width="1.1"/>
<path d="M 403.000 324.000 A 56.000 9.890 0 0 1 403.000 343.800" fill="none" stroke="#222" stroke-width="1.1"/>
<path d="M 403.000 349.400 A 56.000 10.190 0 0 1 403.000 369.800" fill="none" stroke="#222" stroke-width="1.1"/>
<line x1="403.0" y1="272.3" x2="504.0" y2="272.3" stroke="#111" stroke-width="1.4" stroke-dasharray="4,2.6"/>
<line x1="403.0" y1="349.0" x2="475.0" y2="349.0" stroke="#111" stroke-width="1.4" stroke-dasharray="4,2.6"/>
<line x1="466.3" y1="278.0" x2="466.3" y2="344.0" stroke="#111" stroke-width="1.3" stroke-dasharray="4,2.6"/>
<path d="M 463.5 279 L 466.3 273.8 L 469.1 279" fill="none" stroke="#111" stroke-width="1.1"/>
<path d="M 463.5 343.5 L 466.3 348.5 L 469.1 343.5" fill="none" stroke="#111" stroke-width="1.1"/>
<line x1="403.5" y1="323.5" x2="474.4" y2="323.5" stroke="#3a5cc0" stroke-width="1.4" stroke-dasharray="4,2.6"/>
<line x1="474.4" y1="323.5" x2="474.4" y2="370.0" stroke="#3a5cc0" stroke-width="1.4" stroke-dasharray="4,2.6"/>
<line x1="403.5" y1="370.0" x2="474.4" y2="370.0" stroke="#3a5cc0" stroke-width="1.4" stroke-dasharray="4,2.6"/>
<line x1="403.5" y1="323.5" x2="403.5" y2="370.0" stroke="#3a5cc0" stroke-width="1.4" stroke-dasharray="3,3"/>
<line x1="474.4" y1="338.4" x2="500.0" y2="338.4" stroke="#3a5cc0" stroke-width="1.4" stroke-dasharray="4,2.6"/>
<line x1="489.5" y1="279.0" x2="489.5" y2="333.0" stroke="#3a5cc0" stroke-width="1.3" stroke-dasharray="4,2.6"/>
<path d="M 486.9 279 L 489.5 274.2 L 492.1 279" fill="none" stroke="#3a5cc0" stroke-width="1.1"/>
<path d="M 486.9 332 L 489.5 337 L 492.1 332" fill="none" stroke="#3a5cc0" stroke-width="1.1"/>
<text x="387.8" y="266.3" font-size="9.8" text-anchor="start" fill="#222"  >CB</text>
<text x="387.5" y="363.8" font-size="9.8" text-anchor="start" fill="#222"  >VB</text>
<text x="411.5" y="266.3" font-size="10" fill="#222">Nb 4<tspan font-style="italic">d</tspan></text>
<text x="411.5" y="338.8" font-size="10" fill="#222">Co 3<tspan font-style="italic">d</tspan></text>
<text x="412.5" y="363.8" font-size="10" fill="#222">O 2<tspan font-style="italic">p</tspan></text>
<text x="429.8" y="307.5" font-size="9.6" fill="#222"><tspan font-style="italic">E</tspan><tspan font-size="6" dy="2">g</tspan><tspan dy="-2">(KNO)</tspan></text>
<text x="492.5" y="308" font-size="9.6" fill="#3a5cc0"><tspan font-style="italic">E</tspan><tspan font-size="6" dy="2">g</tspan><tspan dy="-2">(KLNCO)</tspan></text>
<text font-size="9.7" font-weight="bold" fill="#222" transform="translate(396.5,347.4) rotate(-90)" textLength="67.7" lengthAdjust="spacingAndGlyphs">Potential energy</text>
<text x="483.3" y="244.4" font-size="15" text-anchor="start" fill="#222"  >(d)</text>
</svg></body></html>
